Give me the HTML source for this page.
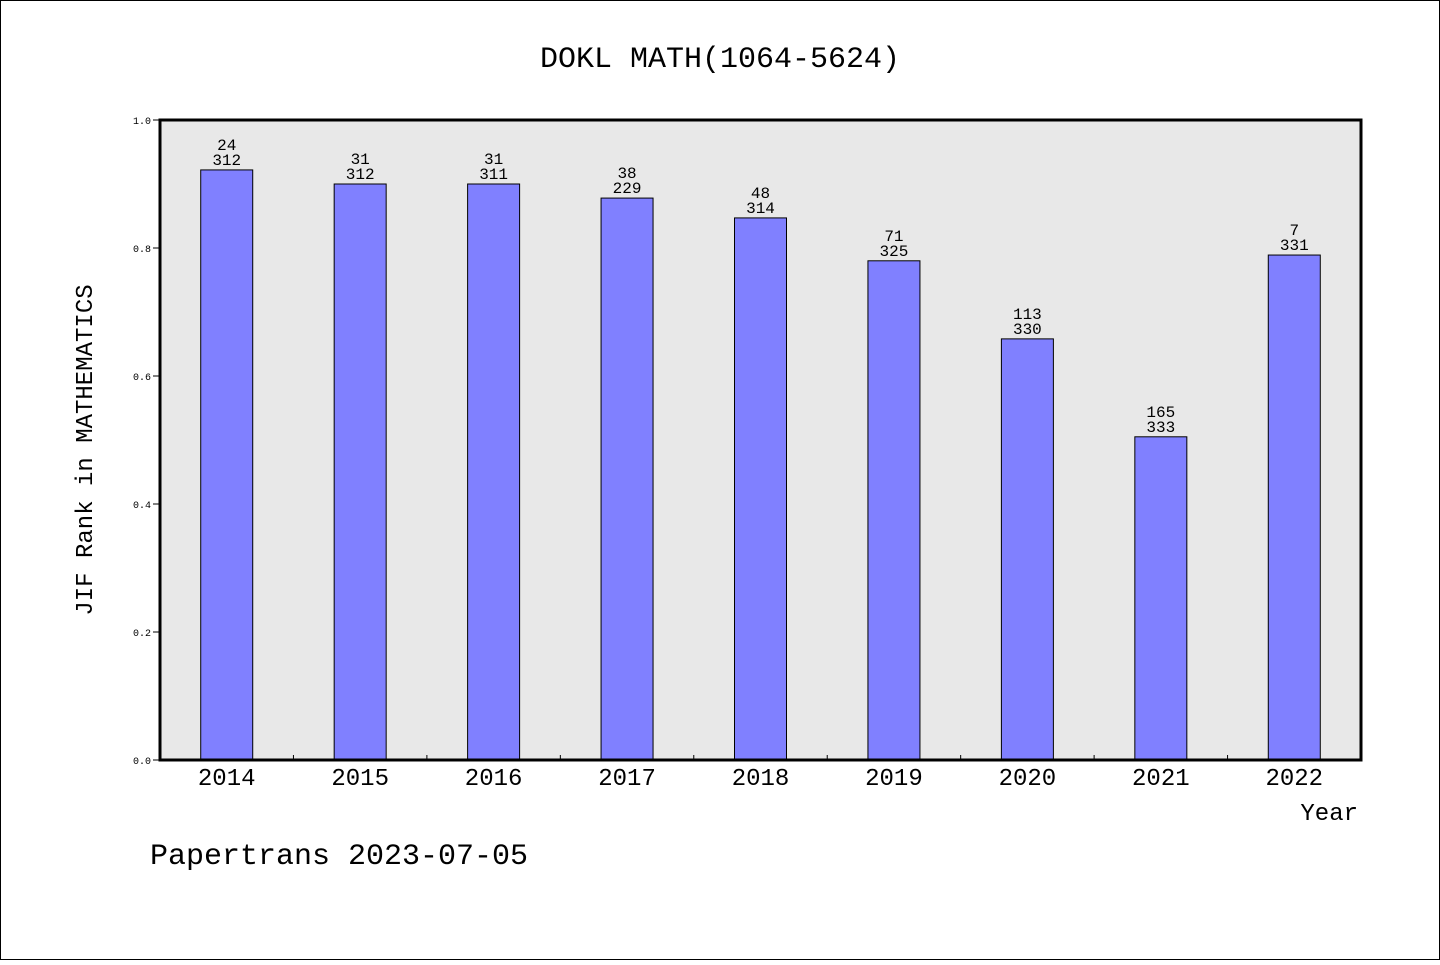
<!DOCTYPE html>
<html><head><meta charset="utf-8"><style>
body{margin:0;background:#fff}
svg text{font-family:"Liberation Mono","WenQuanYi Zen Hei",monospace}
</style></head><body>
<svg id="c" width="1440" height="960" xmlns="http://www.w3.org/2000/svg">
<rect x="0.5" y="0.5" width="1439" height="959" fill="#fff" stroke="#000"/>
<text x="720" y="67" font-size="30" text-anchor="middle">DOKL MATH(1064-5624)</text>
<rect x="160" y="120" width="1201" height="640" fill="#e8e8e8"/>
<g id="bars"></g>
<rect x="160" y="120" width="1201" height="640" fill="none" stroke="#000" stroke-width="3"/>
<text x="92" y="450" font-size="24" text-anchor="middle" transform="rotate(-90 92 450)">JIF Rank in MATHEMATICS</text>
<text x="1358" y="820" font-size="24" text-anchor="end">Year</text>
<text x="150" y="864" font-size="30">Papertrans 2023-07-05</text>
</svg>
<script>
const years=['2014','2015','2016','2017','2018','2019','2020','2021','2022'];
const values=[0.922,0.900,0.900,0.878,0.847,0.780,0.658,0.505,0.789];
const ranks=[24,31,31,38,48,71,113,165,7];
const totals=[312,312,311,229,314,325,330,333,331];
const yTicks=[0,0.2,0.4,0.6,0.8,1.0];
const NS='http://www.w3.org/2000/svg';
const X0=160,W=1201,Y0=760,H=640;
const bw=W/years.length;
const xs=i=>X0+bw*(i+0.5);
const ys=v=>Y0-v*H;
const g=document.getElementById('bars');
function mk(t,a){const e=document.createElementNS(NS,t);for(const k in a)e.setAttribute(k,a[k]);return e;}
yTicks.forEach(v=>{
 const l=mk('line',{x1:153,x2:160,y1:ys(v),y2:ys(v),stroke:'#000'});
 
 
 g.appendChild(l);
 const t=mk('text',{x:151,y:ys(v)+4,'font-size':10,'text-anchor':'end'});
 t.textContent=v.toFixed(1);
 
 
 g.appendChild(t);
});
years.forEach((y,i)=>{
 const v=values[i];
 const r=mk('rect',{x:xs(i)-26,y:ys(v),width:52,height:Y0-ys(v),fill:'#8080ff',stroke:'#000','stroke-width':1});
 
 
 g.appendChild(r);
 const t1=mk('text',{x:xs(i),y:ys(v)-20,'font-size':16,'text-anchor':'middle'});
 t1.textContent=ranks[i];
 
 
 g.appendChild(t1);
 const t2=mk('text',{x:xs(i),y:ys(v)-5,'font-size':16,'text-anchor':'middle'});
 t2.textContent=totals[i];
 
 
 g.appendChild(t2);
 const xl=mk('text',{x:xs(i),y:785,'font-size':24,'text-anchor':'middle'});
 xl.textContent=y;
 
 
 g.appendChild(xl);
 if(i>0){
  const tk=mk('line',{x1:X0+bw*i,x2:X0+bw*i,y1:Y0,y2:Y0-5,stroke:'#000'});
  
  
  g.appendChild(tk);
 }
});
</script>
</body></html>
